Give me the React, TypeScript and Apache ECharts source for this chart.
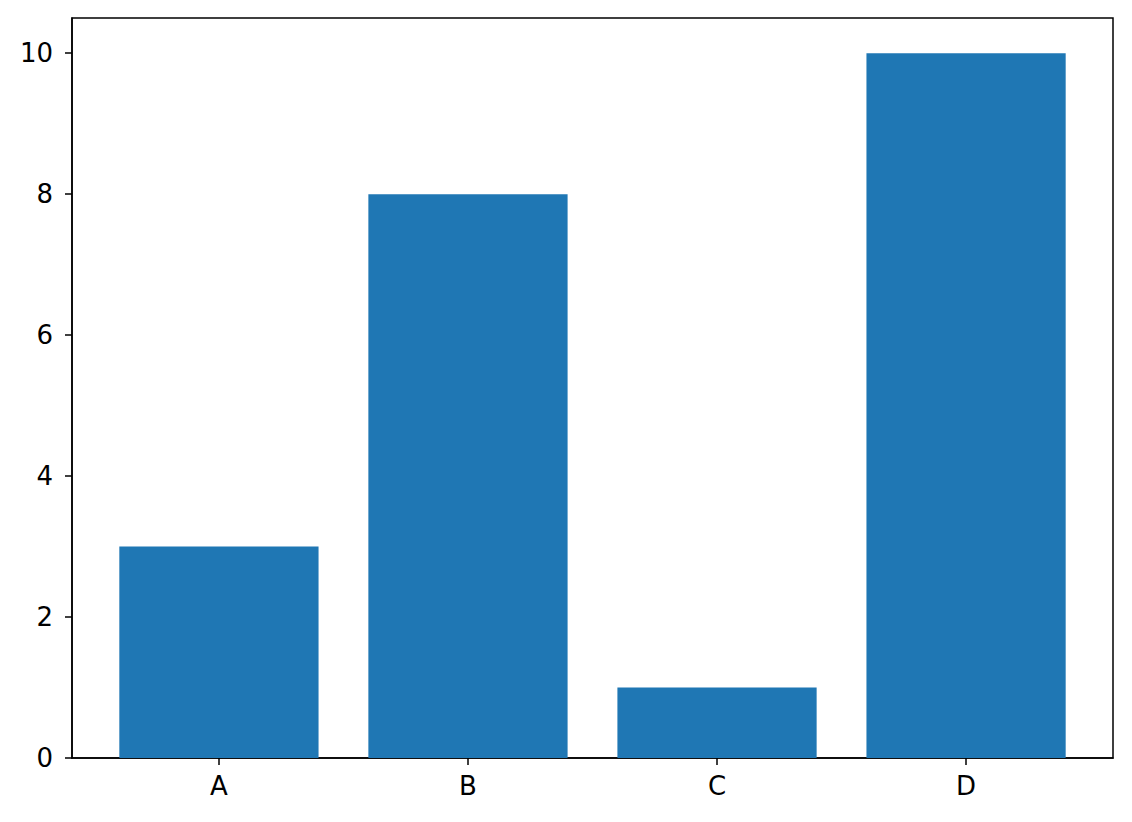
import React, { useEffect, useRef } from "react";
import * as echarts from "echarts";

const categories = ["A", "B", "C", "D"];
const values = [3, 8, 1, 10];
const yTicks = [0, 2, 4, 6, 8, 10];
const positions = [0, 1, 2, 3];

const W = 1132;
const H = 822;
const GRID = { left: 72, right: 19, top: 18, bottom: 64 };
const X_MIN = -0.59;
const X_MAX = 3.59;
const BAR_FRAC = 0.8;

export default function App() {
  const ref = useRef<HTMLDivElement>(null);
  useEffect(() => {
    document.body.style.margin = "0";
    if (!ref.current) return;
    const chart = echarts.init(ref.current, null, { renderer: "svg" });
    const plotW = W - GRID.left - GRID.right;
    const barW = (BAR_FRAC * plotW) / (X_MAX - X_MIN);
    const font = { fontFamily: "DejaVu Sans", fontSize: 26, color: "#000" };
    chart.setOption({
      animation: false,
      grid: {
        ...GRID,
        show: true,
        borderColor: "#000",
        borderWidth: 1.5,
        backgroundColor: "transparent",
      },
      xAxis: {
        type: "value",
        min: X_MIN,
        max: X_MAX,
        axisLine: { show: true, onZero: false, lineStyle: { color: "#000", width: 1.5 } },
        axisTick: { show: true, inside: false, length: 7, customValues: positions, lineStyle: { color: "#000", width: 1.5 } },
        axisLabel: {
          ...font,
          margin: 15,
          customValues: positions,
          formatter: (v: number) => categories[Math.round(v)] ?? "",
        },
        splitLine: { show: false },
      },
      yAxis: {
        type: "value",
        min: 0,
        max: 10.5,
        axisLine: { show: true, onZero: false, lineStyle: { color: "#000", width: 1.5 } },
        axisTick: { show: true, inside: false, length: 7, customValues: yTicks, lineStyle: { color: "#000", width: 1.5 } },
        axisLabel: { ...font, margin: 19, customValues: yTicks },
        splitLine: { show: false },
      },
      series: [
        {
          type: "bar",
          data: positions.map((p, i) => [p, values[i]]),
          barWidth: barW,
          itemStyle: { color: "#1f77b4" },
        },
      ],
    });
    return () => chart.dispose();
  }, []);
  return <div ref={ref} style={{ width: W, height: H }} />;
}
